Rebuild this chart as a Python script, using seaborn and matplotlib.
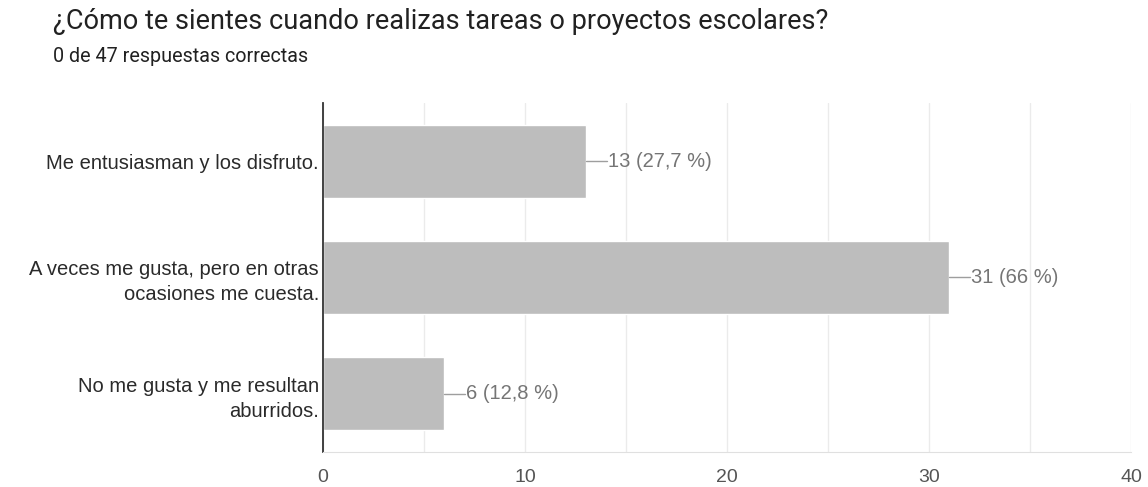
import matplotlib
matplotlib.use("Agg")
import matplotlib.pyplot as plt
import pandas as pd
import seaborn as sns

# chart data
categories = ["Me entusiasman y los disfruto.",
              "A veces me gusta, pero en otras\nocasiones me cuesta.",
              "No me gusta y me resultan\naburridos."]
counts = [13, 31, 6]
percent_labels = ["27,7 %", "66 %", "12,8 %"]
x_ticks = [0, 10, 20, 30, 40]

df = pd.DataFrame({"respuesta": categories, "n": counts})

sns.set_style("white")
plt.rcParams['font.family'] = ['Liberation Sans', 'DejaVu Sans']

fig = plt.figure(figsize=(11.48, 4.87), dpi=100)
ax = fig.add_axes([0.2814, 0.0719, 0.7038, 0.7166])

sns.barplot(data=df, x="n", y="respuesta", color="#bdbdbd", saturation=1,
            width=0.63, ax=ax, zorder=2)

ax.set_xlim(0, 40)
ax.set_ylim(2.5, -0.5)
ax.set_xticks(x_ticks)
ax.set_xticks(range(0, 41, 5), minor=True)
ax.grid(axis="x", which="both", color="#ebebeb", linewidth=1, zorder=0)
ax.set_xlabel("")
ax.set_ylabel("")
ax.tick_params(axis="x", length=0, labelsize=14, labelcolor="#555555", pad=12)
ax.tick_params(axis="y", length=0, labelsize=14.5, labelcolor="#2a2a2a", pad=3)
for lbl in ax.get_yticklabels():
    lbl.set_horizontalalignment("right")
    lbl.set_multialignment("right")
    lbl.set_linespacing(1.4)

for s in ["top", "right"]:
    ax.spines[s].set_visible(False)
ax.spines["left"].set_color("#333333")
ax.spines["left"].set_linewidth(1.3)
ax.spines["bottom"].set_color("#e0e0e0")

# value labels with a small leader line
for i, (v, p) in enumerate(zip(counts, percent_labels)):
    ax.plot([v, v + 1.05], [i, i], color="#9e9e9e", linewidth=1, zorder=3)
    ax.text(v + 1.1, i, f"{v} ({p})", va="center", ha="left",
            fontsize=14.5, color="#757575")

fig.text(53 / 1148, 1 - 29 / 487, "¿Cómo te sientes cuando realizas tareas o proyectos escolares?",
         fontsize=19.5, color="#212121", va="baseline", ha="left", family=["Roboto", "DejaVu Sans"])
fig.text(53 / 1148, 1 - 62 / 487, "0 de 47 respuestas correctas",
         fontsize=14.2, color="#212121", va="baseline", ha="left", family=["Roboto", "DejaVu Sans"])

fig.savefig("out.png", dpi=100, facecolor="white")
